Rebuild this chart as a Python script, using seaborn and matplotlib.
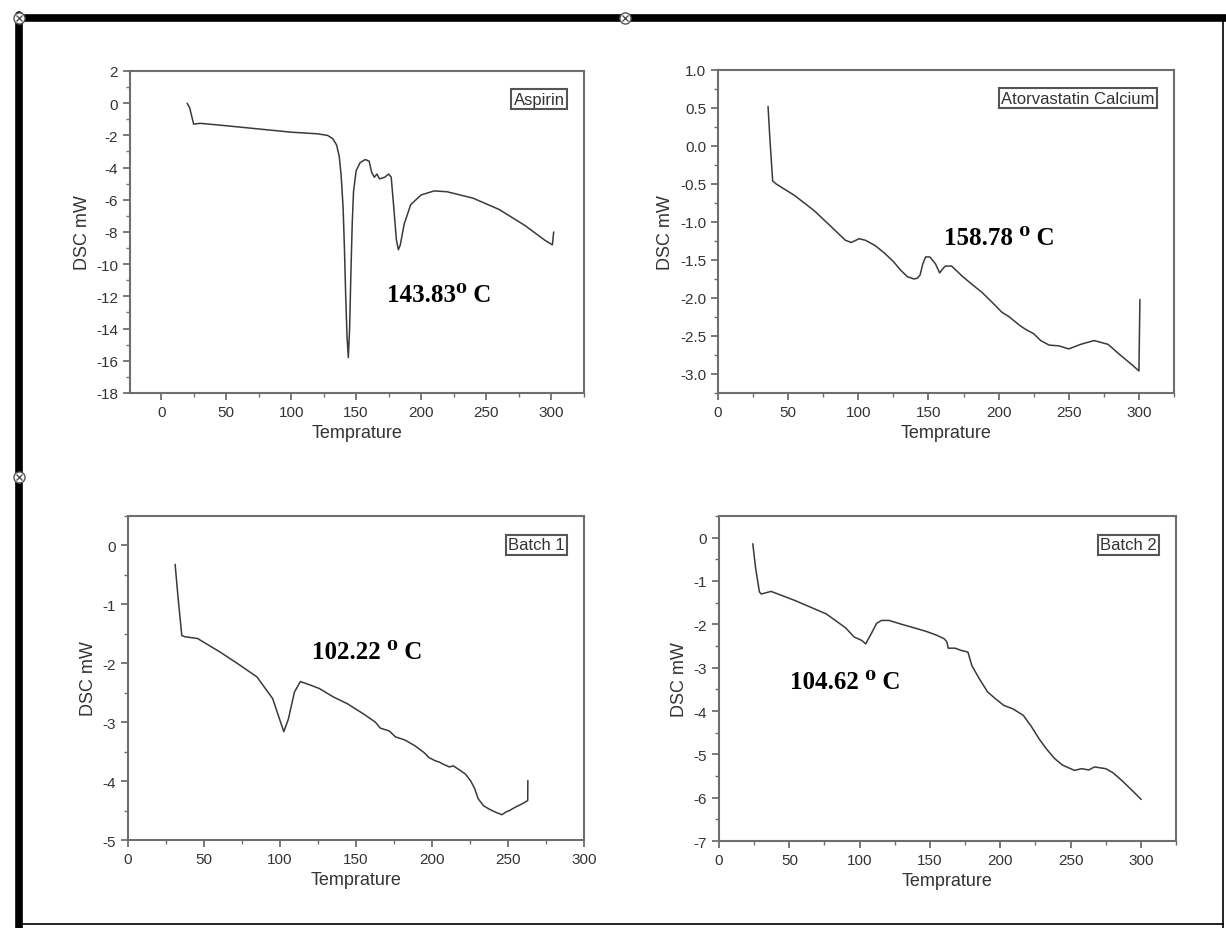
# -*- coding: utf-8 -*-
# DSC thermograms: Aspirin, Atorvastatin Calcium, Batch 1, Batch 2
import pandas as pd
import matplotlib.pyplot as plt
from matplotlib.lines import Line2D
from matplotlib.ticker import MultipleLocator
import seaborn as sns

# datos
aspirin_t = [20, 22, 25, 30, 50, 75, 100, 120, 128, 132, 135, 137, 138.5, 140, 141, 142, 143, 144, 145,
             146, 147, 148, 150, 153, 157, 160, 162, 164, 166, 168, 172, 175, 177, 179, 181, 182.5, 184,
             187, 192, 200, 210, 220, 240, 260, 280, 295, 301, 302]
aspirin_dsc = [0.0, -0.3, -1.3, -1.25, -1.4, -1.6, -1.8, -1.9, -2.0, -2.2, -2.6, -3.3, -4.5, -6.5, -9.0,
               -12.0, -14.5, -15.8, -14.0, -10.5, -7.5, -5.5, -4.2, -3.7, -3.5, -3.6, -4.3, -4.6, -4.4,
               -4.7, -4.6, -4.4, -4.6, -6.5, -8.5, -9.1, -8.8, -7.5, -6.3, -5.7, -5.45, -5.5, -5.9,
               -6.6, -7.6, -8.5, -8.8, -8.0]

atorva_t = [35.7, 37, 39, 41.5, 54.5, 68.5, 80, 90.8, 95, 100.6, 105, 112, 118.7, 125, 130, 135, 139.7,
            142, 144, 146, 148, 151, 155, 158, 160, 162, 166.5, 174.5, 181, 188.4, 195, 202.5, 207,
            211, 215, 219, 225, 230, 236, 243, 250, 258.5, 268, 278, 286, 294.5, 300, 300.7]
atorva_dsc = [0.52, 0.1, -0.46, -0.5, -0.65, -0.85, -1.05, -1.24, -1.27, -1.22, -1.24, -1.31, -1.41,
              -1.52, -1.63, -1.72, -1.75, -1.74, -1.70, -1.55, -1.46, -1.46, -1.55, -1.67, -1.62,
              -1.58, -1.58, -1.72, -1.82, -1.93, -2.05, -2.19, -2.24, -2.30, -2.36, -2.41, -2.47,
              -2.56, -2.62, -2.63, -2.67, -2.61, -2.56, -2.61, -2.74, -2.87, -2.96, -2.02]

batch1_t = [31, 33, 35.4, 37.5, 45.8, 60, 71.8, 84.8, 95.2, 100.4, 102.5, 105.5, 109.5, 113.4, 120,
            126, 135, 144.6, 150, 155, 162.8, 166, 172, 176, 182, 188.8, 195, 198, 201.8, 205, 208,
            211.5, 214, 217.5, 222, 225.3, 228, 230.4, 234, 238, 242, 246, 249, 251, 255, 259, 263,
            263.1]
batch1_dsc = [-0.32, -0.9, -1.53, -1.55, -1.58, -1.8, -2.0, -2.23, -2.6, -3.0, -3.16, -2.95, -2.49,
              -2.31, -2.37, -2.43, -2.57, -2.69, -2.78, -2.86, -3.0, -3.1, -3.15, -3.25, -3.3, -3.4,
              -3.52, -3.6, -3.65, -3.68, -3.72, -3.76, -3.74, -3.8, -3.88, -3.99, -4.12, -4.30, -4.42,
              -4.48, -4.53, -4.57, -4.52, -4.5, -4.44, -4.39, -4.33, -3.99]

batch2_t = [24, 26, 28.7, 30, 37, 54, 76.3, 90, 96, 101.4, 104.3, 108.5, 112, 115.5, 121, 130, 140.8,
            148, 154.7, 160, 162, 163, 168, 172, 177, 179.8, 185, 191, 196, 202.5, 209, 216.4, 222,
            227.6, 233, 238.8, 244.4, 252.8, 258, 263, 267, 275, 280, 286.4, 295, 300.3]
batch2_dsc = [-0.14, -0.7, -1.25, -1.3, -1.24, -1.45, -1.76, -2.08, -2.29, -2.37, -2.45, -2.2, -1.98,
              -1.91, -1.91, -2.0, -2.10, -2.17, -2.25, -2.33, -2.4, -2.55, -2.55, -2.6, -2.64, -2.95,
              -3.25, -3.56, -3.7, -3.87, -3.95, -4.10, -4.35, -4.64, -4.88, -5.10, -5.25, -5.37,
              -5.33, -5.36, -5.29, -5.33, -5.42, -5.60, -5.87, -6.04]

labels = ["Aspirin", "Atorvastatin Calcium", "Batch 1", "Batch 2"]
peaks = ["143.83\u2070 C", "158.78 \u2070 C", "102.22 \u2070 C", "104.62 \u2070 C"]

sns.set_style("ticks")
plt.rcParams['font.family'] = ['Liberation Sans', 'DejaVu Sans']
plt.rcParams['axes.unicode_minus'] = False

GRIS = '#6e6e6e'
LINEA = '#3a3a3a'


def plot_dsc(fig, rect, t, dsc, label, peak, peak_xy, xlim, ylim, ymaj, ymin, xmaj=50):
    """Dibuja un termograma DSC en la posicion rect de la figura"""
    ax = fig.add_axes(rect)
    df = pd.DataFrame({"Temprature": t, "DSC mW": dsc})
    sns.lineplot(data=df, x="Temprature", y="DSC mW", sort=False, estimator=None,
                 color=LINEA, linewidth=1.1, ax=ax)
    ax.set_xlim(xlim)
    ax.set_ylim(ylim)
    ax.xaxis.set_major_locator(MultipleLocator(xmaj))
    ax.xaxis.set_minor_locator(MultipleLocator(xmaj / 2))
    ax.yaxis.set_major_locator(MultipleLocator(ymaj))
    ax.yaxis.set_minor_locator(MultipleLocator(ymin))
    for s in ax.spines.values():
        s.set_color(GRIS)
        s.set_linewidth(1.5)
    ax.tick_params(which='major', direction='out', length=5, width=1.3, color=GRIS,
                   labelsize=11, labelcolor='#333333')
    ax.tick_params(which='minor', direction='out', length=3, width=1.0, color=GRIS)
    ax.set_xlabel("Temprature", fontsize=13, color='#333333')
    ax.set_ylabel("DSC mW", fontsize=13, color='#333333')
    # etiqueta de la muestra
    ax.text(0.958, 0.935, label, transform=ax.transAxes, ha='right', va='top', fontsize=12,
            color='#333333',
            bbox=dict(boxstyle='square,pad=0.15', facecolor='white', edgecolor='#555555', linewidth=1.5))
    # temperatura del pico
    ax.text(peak_xy[0], peak_xy[1], peak, ha='left', va='center', fontsize=18, fontweight='bold',
            family=['Liberation Serif', 'DejaVu Serif'], color='black')
    return ax


fig = plt.figure(figsize=(12.26, 9.29), dpi=100)

plot_dsc(fig, [0.106, 0.5759, 0.370, 0.3466], aspirin_t, aspirin_dsc, labels[0], peaks[0],
         (174, -11.9), (-24, 325), (-18, 2), 2, 1)
plot_dsc(fig, [0.5856, 0.5759, 0.372, 0.3477], atorva_t, atorva_dsc, labels[1], peaks[1],
         (161, -1.21), (0, 325), (-3.25, 1.0), 0.5, 0.25)
plot_dsc(fig, [0.1044, 0.0947, 0.3719, 0.3488], batch1_t, batch1_dsc, labels[2], peaks[2],
         (121, -1.80), (0, 300), (-5, 0.5), 1, 0.5)
plot_dsc(fig, [0.5865, 0.0936, 0.3727, 0.3499], batch2_t, batch2_dsc, labels[3], peaks[3],
         (50.6, -3.33), (0, 325), (-7, 0.5), 1, 0.5)

# marco de la imagen
H, W = 929, 1226
fig.add_artist(Line2D([18 / W, 1.0], [1 - 19 / H, 1 - 19 / H], color='black', linewidth=5.5))
fig.add_artist(Line2D([19 / W, 19 / W], [0.0, 1 - 16 / H], color='black', linewidth=5.5))
fig.add_artist(Line2D([1223 / W, 1223 / W], [0.0, 1 - 22 / H], color='black', linewidth=1.2))
fig.add_artist(Line2D([19 / W, 1223 / W], [4 / H, 4 / H], color='black', linewidth=1.2))
# marcadores de las esquinas
for mx, my in [(19, 19), (625, 19), (19, 478)]:
    fig.add_artist(Line2D([mx / W], [1 - my / H], marker='o', markersize=8, markerfacecolor='white',
                          markeredgecolor='#555555', markeredgewidth=1.0, linestyle='none'))
    fig.add_artist(Line2D([mx / W], [1 - my / H], marker='x', markersize=5, color='#555555',
                          markeredgewidth=1.0, linestyle='none'))

plt.savefig("out.png", dpi=100)
